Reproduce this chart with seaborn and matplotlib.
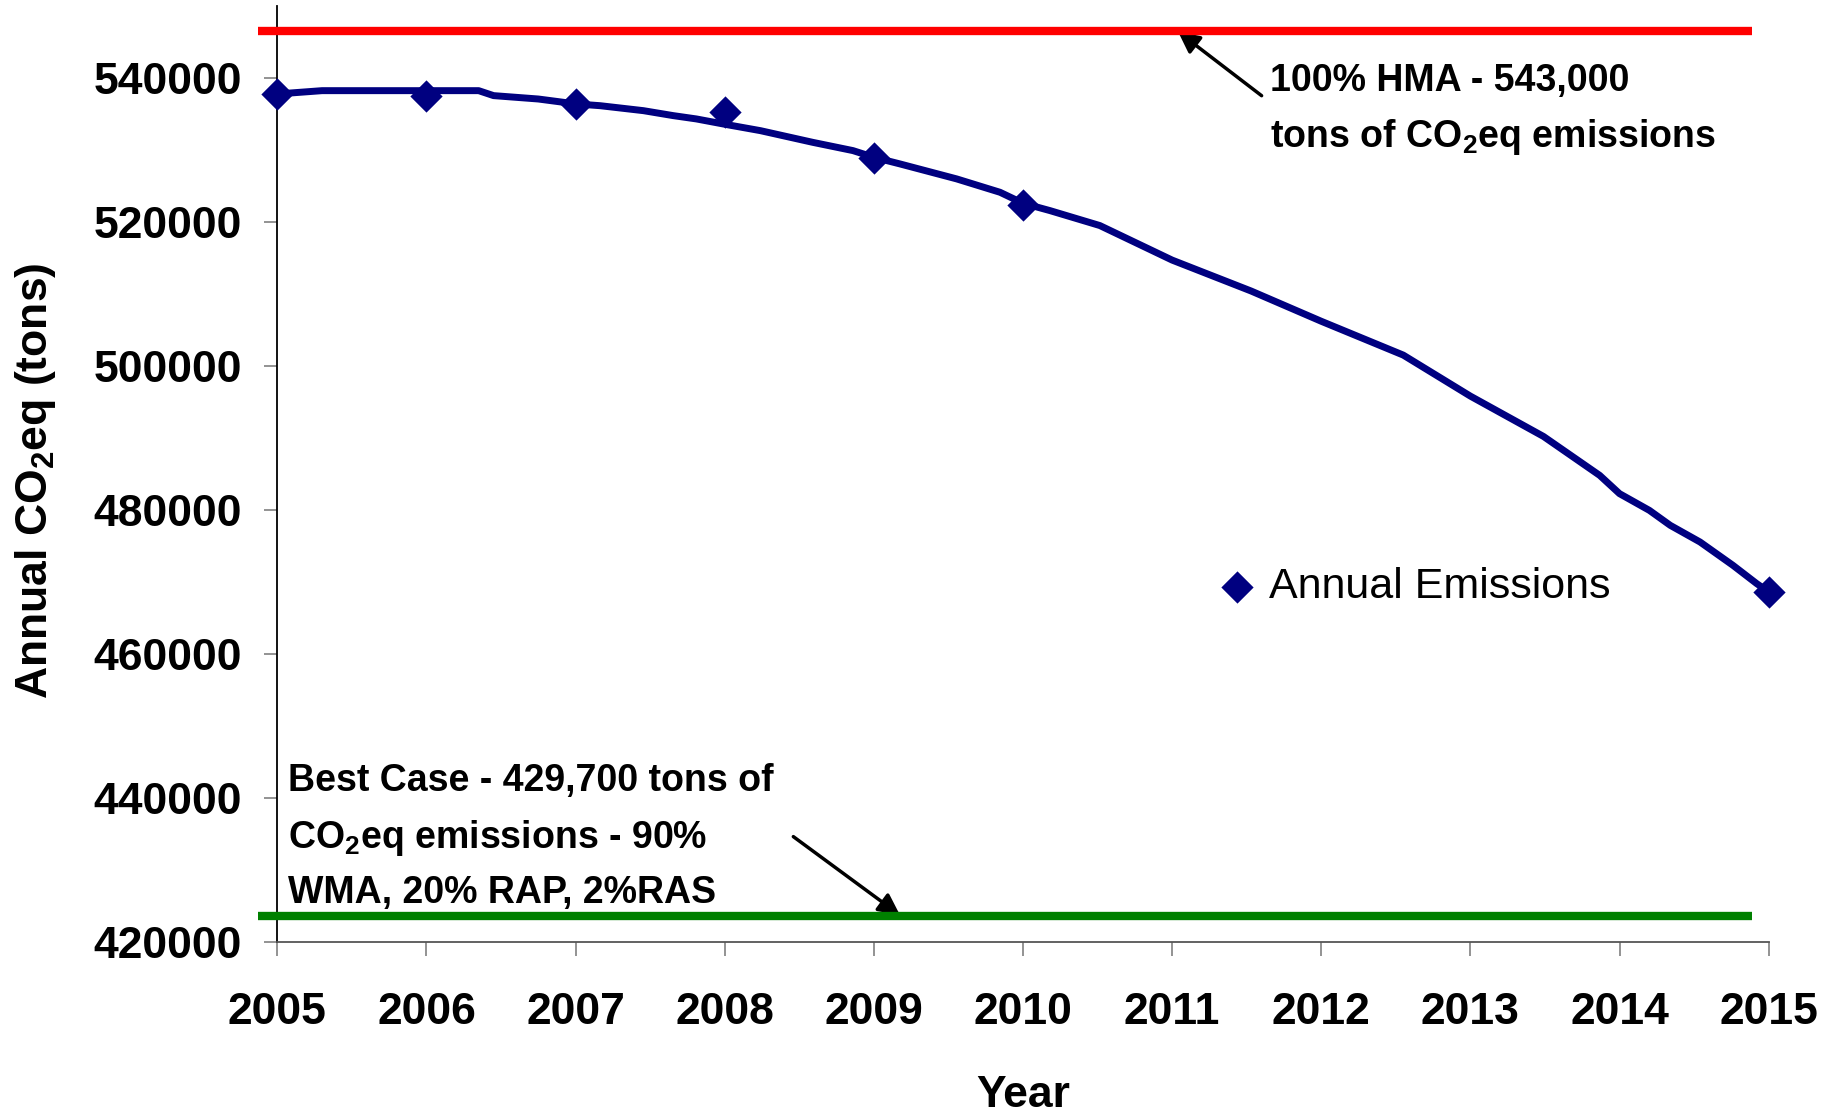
import matplotlib
matplotlib.use('Agg')
import matplotlib.pyplot as plt
import seaborn as sns
import pandas as pd

# annual points (diamonds)
years = [2005, 2006, 2007, 2008, 2009, 2010, 2015]
annual = [537780, 537450, 536390, 535230, 528840, 522410, 468590]

# the smooth curve drawn through them
curve_x = [2005.0, 2005.3, 2006.35, 2006.45, 2006.75, 2007.0, 2007.165, 2007.455,
           2007.655, 2007.81, 2007.99, 2008.24, 2008.59, 2008.86, 2009.0, 2009.175,
           2009.555, 2009.846, 2010.0, 2010.18, 2010.515, 2011.0, 2011.53, 2012.0,
           2012.55, 2013.0, 2013.49, 2013.867, 2014.0, 2014.2, 2014.34, 2014.54,
           2014.76, 2014.92, 2015.0]
curve_y = [537780, 538240, 538240, 537550, 537080, 536400, 536150, 535460,
           534770, 534310, 533610, 532680, 531060, 529910, 528980, 528060,
           525980, 524120, 522600, 521580, 519500, 514700, 510400, 506200,
           501500, 495800, 490200, 484790, 482250, 479930, 477850, 475530,
           472300, 469750, 468600]

# reference levels (drawn bars)
hma_level = 546500
best_level = 423600
level_span = [2004.87, 2014.89]

year_ticks = list(range(2005, 2016))
co2_ticks = [420000, 440000, 460000, 480000, 500000, 520000, 540000]
co2_labels = [str(v) for v in co2_ticks]

sns.set_style('ticks')
plt.rcParams['font.family'] = ['Liberation Sans', 'DejaVu Sans']
plt.rcParams['font.weight'] = 'bold'
plt.rcParams['text.color'] = 'black'
plt.rcParams['axes.labelcolor'] = 'black'
# subscript 2 in the same bold face
plt.rcParams['mathtext.fontset'] = 'custom'
plt.rcParams['mathtext.rm'] = 'Liberation Sans:bold'
plt.rcParams['mathtext.bf'] = 'Liberation Sans:bold'
plt.rcParams['mathtext.default'] = 'rm'

fig = plt.figure(figsize=(18.33, 11.13), dpi=100)
ax = fig.add_axes([0.1513, 0.1539, 0.8136, 0.8407])

curve = pd.DataFrame({'year': curve_x, 'co2': curve_y})
pts = pd.DataFrame({'year': years, 'co2': annual})

sns.lineplot(data=curve, x='year', y='co2', color='#000080', linewidth=5,
             estimator=None, ax=ax, zorder=3)
sns.scatterplot(data=pts, x='year', y='co2', marker='D', s=270, color='#000080',
                linewidth=0, ax=ax, zorder=4, clip_on=False, label='Annual Emissions')

ax.hlines(hma_level, level_span[0], level_span[1], color='#ff0000', linewidth=6,
          clip_on=False, zorder=5)
ax.hlines(best_level, level_span[0], level_span[1], color='#008000', linewidth=6,
          clip_on=False, zorder=5)

ax.set_xlim(2005, 2015)
ax.set_ylim(420000, 550000)
ax.set_xticks(year_ticks)
ax.set_xticklabels([str(y) for y in year_ticks])
ax.set_yticks(co2_ticks)
ax.set_yticklabels(co2_labels)
ax.tick_params(axis='y', length=9.5, width=1.2, color='#808080', labelcolor='black',
               pad=16, labelsize=32)
ax.tick_params(axis='x', length=10, width=1.2, color='#808080', labelcolor='black',
               pad=26, labelsize=32)

sns.despine(ax=ax)
ax.spines['left'].set_color('black')
ax.spines['left'].set_linewidth(1.3)
ax.spines['bottom'].set_color('#555555')
ax.spines['bottom'].set_linewidth(1.3)

ax.set_xlabel('Year', fontsize=32, fontweight='bold')
ax.set_ylabel('Annual CO$_2$eq (tons)', fontsize=32, fontweight='bold')
ax.xaxis.set_label_coords(0.5, -0.1425)
ax.yaxis.set_label_coords(-0.147, 0.493)

# va='baseline' sits on the last line of a multi-line text
ax.text(2011.656, 530365, '100% HMA - 543,000\ntons of CO$_2$eq emissions',
        fontsize=27, fontweight='bold', va='baseline', ha='left', linespacing=1.6)
ax.text(2005.074, 425330, 'Best Case - 429,700 tons of\nCO$_2$eq emissions - 90%\nWMA, 20% RAP, 2%RAS',
        fontsize=27, fontweight='bold', va='baseline', ha='left', linespacing=1.62)

arrow = dict(arrowstyle='-|>', color='black', lw=2.5, mutation_scale=32,
             shrinkA=0, shrinkB=0)
ax.annotate('', xy=(2011.04, 546430), xytext=(2011.6, 537540), arrowprops=arrow)
ax.annotate('', xy=(2009.175, 423700), xytext=(2008.46, 434600), arrowprops=arrow)

ax.legend(loc='center left', bbox_to_anchor=(0.632, 0.379), frameon=False,
          handlelength=0.8, handletextpad=0.35, borderpad=0, borderaxespad=0,
          prop={'size': 31, 'weight': 'normal'}, markerscale=1.0)

fig.savefig('out.png', dpi=100)
